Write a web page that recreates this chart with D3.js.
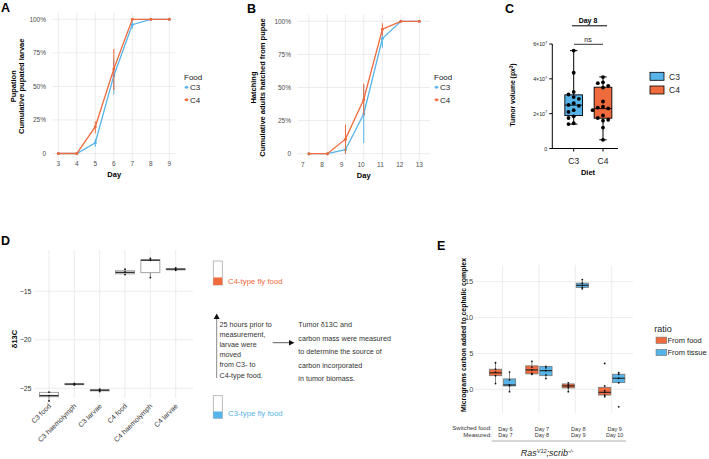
<!DOCTYPE html>
<html><head><meta charset="utf-8">
<script src="https://cdn.jsdelivr.net/npm/d3@7"></script>
<style>body{margin:0;background:#fff} svg{display:block} text{font-family:"Liberation Sans",Arial,Helvetica,sans-serif}</style>
</head><body>
<svg id="fig" width="709" height="459"></svg>
<script>
// ---------------- DATA ----------------
// Panel A: pupation
const daysA = [3,4,5,6,7,8,9];
const pupC3   = [0,0,0.08,0.58,0.96,1,1];
const pupC3lo = [0,0,0.05,0.44,0.93,1,1];
const pupC3hi = [0,0,0.11,0.70,0.99,1,1];
const pupC4   = [0,0,0.20,0.63,1,1,1];
const pupC4lo = [0,0,0.15,0.47,1,1,1];
const pupC4hi = [0,0,0.24,0.78,1,1,1];
const pctTicks = [0,0.25,0.5,0.75,1];
const pctLabels = ["0","25%","50%","75%","100%"];
// Panel B: hatching (observation times, days)
const daysB = [7.32,8.27,9.2,10.14,11.1,12.05,13.0];
const dayTicksB = [7,8,9,10,11,12,13];
const hatC3   = [0,0,0.03,0.30,0.87,1,1];
const hatC3lo = [0,0,0.00,0.08,0.80,1,1];
const hatC3hi = [0,0,0.06,0.52,0.93,1,1];
const hatC4   = [0,0,0.11,0.41,0.94,1,1];
const hatC4lo = [0,0,0.00,0.29,0.89,1,1];
const hatC4hi = [0,0,0.22,0.53,0.985,1,1];
const foodSeries = ["C3","C4"];
// Panel C: tumor volume (x 1e7 px^3)
const dietCats = ["C3","C4"];
const tumorC3 = [5.62,4.35,3.25,3.1,2.95,2.85,2.6,2.5,2.45,2.2,2.1,1.85,1.75,1.45,1.4];
const tumorC4 = [4.1,3.8,3.75,3.6,3.5,2.7,2.4,2.35,2.3,2.2,1.9,1.75,1.65,1.6,1.2,0.5];
// [min, q1, median, q3, max]
const tumorStatsC3 = [1.4,1.89,2.49,3.08,5.62];
const tumorStatsC4 = [0.5,1.74,2.29,3.52,4.11];
const tumorTicks = [0,2,4,6];
// Panel D: d13C
const catsD = ["C3 food","C3 haemolymph","C3 larvae","C4 food","C4 haemolymph","C4 larvae"];
const statsD = [
  [-26.3,-25.87,-25.75,-25.42,-25.38],
  [-24.66,-24.63,-24.57,-24.52,-24.48],
  [-25.35,-25.27,-25.2,-25.14,-25.08],
  [-13.3,-13.2,-13.05,-12.88,-12.7],
  [-13.6,-13.08,-11.8,-11.74,-11.6],
  [-12.85,-12.8,-12.72,-12.66,-12.55]
];
const pointsD = [
  [-25.4,-25.75,-26.3],
  [-24.5,-24.57,-24.65],
  [-25.1,-25.2,-25.33],
  [-12.72,-13.0,-13.28],
  [-11.62,-11.8,-13.58],
  [-12.58,-12.72,-12.83]
];
const ticksD = [-15,-20,-25];
// Panel E: carbon source
const switchedE = ["Day 6","Day 7","Day 8","Day 9"];
const measuredE = ["Day 7","Day 8","Day 9","Day 10"];
const ratioSeries = ["From food","From tissue"];
const foodStatsE = [[0.8,1.9,2.3,2.8,3.7],[2.1,2.15,2.7,3.27,3.9],[-0.33,0.19,0.47,0.75,0.9],[-1.03,-0.8,-0.42,0.28,0.47]];
const tissueStatsE = [[-0.33,0.47,0.6,1.45,2.4],[1.5,1.9,2.6,3.2,3.2],[14.0,14.2,14.5,14.8,15.3],[0.84,0.93,1.54,2.1,2.33]];
const foodPtsE = [[3.7,2.8,2.4,1.9,0.8],[3.9,3.1,2.7,2.2,2.1],[0.9,0.6,0.45,0.2,-0.33],[3.6,0.47,-0.2,-0.42,-0.8,-1.03]];
const tissuePtsE = [[2.4,1.3,0.6,0.5,-0.33],[3.2,3.0,2.6,2.0,1.5],[15.3,14.8,14.5,14.2,14.0],[2.33,2.1,1.54,0.93,-2.44]];
const ticksE = [0,5,10,15];

// ---------------- STYLE ----------------
const ORANGE="#EF6A3C", BLUE="#56B4E9", GRID="#e4e4e4", TXT="#4d4d4d";
const svg = d3.select("#fig");

function label(t,x,y){ svg.append("text").attr("x",x).attr("y",y).attr("font-size",12.5).attr("font-weight","bold").text(t); }
label("A",1,12.3); label("B",247,13.3); label("C",505,13.3); label("D",1,245); label("E",437,250);

// ---------------- A & B ----------------
function linePanel(c){
  const g = svg.append("g");
  const x = d3.scaleLinear().domain(c.xdom).range(c.xr);
  const y = d3.scaleLinear().domain([0,1]).range(c.yr);
  g.selectAll(null).data(pctTicks).join("line").attr("x1",c.px[0]).attr("x2",c.px[1])
    .attr("y1",d=>y(d)).attr("y2",d=>y(d)).attr("stroke",GRID).attr("stroke-width",0.7);
  g.selectAll(null).data(c.gridX).join("line").attr("y1",c.py[0]).attr("y2",c.py[1])
    .attr("x1",d=>x(d)).attr("x2",d=>x(d)).attr("stroke",GRID).attr("stroke-width",0.7);
  g.selectAll(null).data(pctTicks).join("text").attr("x",c.px[0]-6.5).attr("y",d=>y(d)+2.3)
    .attr("text-anchor","end").attr("font-size",6.5).attr("fill",TXT).text((d,i)=>pctLabels[i]);
  g.selectAll(null).data(c.tickX).join("text").attr("x",d=>x(d)).attr("y",c.tickY)
    .attr("text-anchor","middle").attr("font-size",6.5).attr("fill",TXT).text(d=>d);
  g.append("text").attr("x",(c.px[0]+c.px[1])/2).attr("y",c.tickY+11).attr("text-anchor","middle")
    .attr("font-size",7.5).attr("font-weight","bold").text("Day");
  c.ytitle.forEach((t,i)=>{
    g.append("text").attr("transform",`translate(${c.ytx[i]},${(c.py[0]+c.py[1])/2}) rotate(-90)`)
      .attr("text-anchor","middle").attr("font-size",7.5).attr("font-weight","bold").text(t);
  });
  const series=[{col:BLUE,v:c.s3,lo:c.s3lo,hi:c.s3hi},{col:ORANGE,v:c.s4,lo:c.s4lo,hi:c.s4hi}];
  const line=d3.line().x((d,i)=>x(c.xs[i])).y(d=>y(d));
  series.forEach(s=>{
    g.selectAll(null).data(s.v).join("line").attr("x1",(d,i)=>x(c.xs[i])).attr("x2",(d,i)=>x(c.xs[i]))
      .attr("y1",(d,i)=>y(s.lo[i])).attr("y2",(d,i)=>y(s.hi[i])).attr("stroke",s.col).attr("stroke-width",1);
    g.append("path").attr("d",line(s.v)).attr("fill","none").attr("stroke",s.col).attr("stroke-width",1.3);
    g.selectAll(null).data(s.v).join("circle").attr("cx",(d,i)=>x(c.xs[i])).attr("cy",d=>y(d)).attr("r",1.5).attr("fill",s.col);
  });
  // legend
  g.append("text").attr("x",c.lx).attr("y",80).attr("font-size",8).attr("fill","#222").text("Food");
  foodSeries.forEach((f,i)=>{
    const yy=87.3+i*12.4;
    g.append("line").attr("x1",c.lx+0.5).attr("x2",c.lx+4.5).attr("y1",yy).attr("y2",yy).attr("stroke",series[i].col).attr("stroke-width",1);
    g.append("circle").attr("cx",c.lx+2.5).attr("cy",yy).attr("r",1.5).attr("fill",series[i].col);
    g.append("text").attr("x",c.lx+6).attr("y",yy+3).attr("font-size",8).attr("fill","#222").text(f);
  });
}
linePanel({xdom:[3,9],xr:[58.3,169.3],yr:[153.5,19.3],px:[52.5,176],py:[12.6,160],gridX:daysA,tickX:daysA,tickY:165.5,
  xs:daysA,s3:pupC3,s3lo:pupC3lo,s3hi:pupC3hi,s4:pupC4,s4lo:pupC4lo,s4hi:pupC4hi,
  ytitle:["Pupation","Cumulative pupated larvae"],ytx:[15.5,24],lx:184});
linePanel({xdom:[7,13],xr:[302.7,419.3],yr:[153.7,21.3],px:[297.5,430],py:[14.5,160.5],gridX:daysB,tickX:dayTicksB,tickY:166.8,
  xs:daysB,s3:hatC3,s3lo:hatC3lo,s3hi:hatC3hi,s4:hatC4,s4lo:hatC4lo,s4hi:hatC4hi,
  ytitle:["Hatching","Cumulative adults hatched from pupae"],ytx:[256,264.5],lx:434});

// ---------------- C ----------------
(function(){
  const g=svg.append("g");
  const y=d3.scaleLinear().domain([0,6]).range([148.5,44]);
  const x=d3.scalePoint().domain(dietCats).range([573.7,603]);
  const ax=552.3;
  g.append("line").attr("x1",ax).attr("x2",ax).attr("y1",y(6)).attr("y2",y(0)+0.5).attr("stroke","#000").attr("stroke-width",1);
  g.append("line").attr("x1",ax).attr("x2",618).attr("y1",y(0)).attr("y2",y(0)).attr("stroke","#000").attr("stroke-width",1);
  tumorTicks.forEach(t=>{
    g.append("line").attr("x1",ax-3).attr("x2",ax).attr("y1",y(t)).attr("y2",y(t)).attr("stroke","#000");
    const tx=g.append("text").attr("x",ax-5).attr("y",y(t)+2).attr("text-anchor","end").attr("font-size",5.3).attr("fill","#222");
    if(t===0) tx.text("0"); else { tx.text(t+"×10"); tx.append("tspan").attr("dy",-2.2).attr("font-size",4).text("7"); }
  });
  dietCats.forEach(d=>{
    g.append("line").attr("x1",x(d)).attr("x2",x(d)).attr("y1",y(0)).attr("y2",y(0)+3).attr("stroke","#000");
    g.append("text").attr("x",x(d)).attr("y",164).attr("text-anchor","middle").attr("font-size",8.5).attr("fill","#222").text(d);
  });
  g.append("text").attr("x",588).attr("y",175).attr("text-anchor","middle").attr("font-size",7.5).attr("font-weight","bold").text("Diet");
  const yt=g.append("text").attr("transform","translate(515,95) rotate(-90)").attr("text-anchor","middle").attr("font-size",6.8).attr("font-weight","bold");
  yt.append("tspan").text("Tumor volume (px");
  yt.append("tspan").attr("dy",-2).attr("font-size",4.5).text("3");
  yt.append("tspan").attr("dy",2).text(")");
  g.append("text").attr("x",588).attr("y",23.3).attr("text-anchor","middle").attr("font-size",7).attr("font-weight","bold").text("Day 8");
  g.append("line").attr("x1",572).attr("x2",607).attr("y1",25.8).attr("y2",25.8).attr("stroke","#000").attr("stroke-width",1);
  g.append("text").attr("x",588).attr("y",42).attr("text-anchor","middle").attr("font-size",7).attr("fill","#222").text("ns");
  g.append("line").attr("x1",574).attr("x2",603).attr("y1",44.3).attr("y2",44.3).attr("stroke","#000").attr("stroke-width",0.8);
  const bw=17.7;
  [[tumorStatsC3,tumorC3,BLUE],[tumorStatsC4,tumorC4,ORANGE]].forEach(([s,pts,col],i)=>{
    const cx=x(dietCats[i]);
    g.append("line").attr("x1",cx).attr("x2",cx).attr("y1",y(s[0])).attr("y2",y(s[4])).attr("stroke","#000").attr("stroke-width",1);
    [s[0],s[4]].forEach(v=>g.append("line").attr("x1",cx-3.7).attr("x2",cx+3.7).attr("y1",y(v)).attr("y2",y(v)).attr("stroke","#000").attr("stroke-width",1));
    g.append("rect").attr("x",cx-bw/2).attr("width",bw).attr("y",y(s[3])).attr("height",y(s[1])-y(s[3])).attr("fill",col).attr("stroke","#000").attr("stroke-width",0.9);
    g.append("line").attr("x1",cx-bw/2).attr("x2",cx+bw/2).attr("y1",y(s[2])).attr("y2",y(s[2])).attr("stroke","#000").attr("stroke-width",0.9);
    const placed=[];
    pts.forEach(v=>{
      const yy=y(v);
      for(const k of [0,-1,1,-2,2,-3,3]){
        const xx=cx+k*5.2;
        if(placed.every(p=>Math.hypot(p[0]-xx,p[1]-yy)>=4.4)){placed.push([xx,yy]);break;}
      }
    });
    g.selectAll(null).data(placed).join("circle").attr("cx",d=>d[0]).attr("cy",d=>d[1]).attr("r",1.9).attr("fill","#000");
  });
  dietCats.forEach((d,i)=>{
    const yy=76.3+i*13.7;
    g.append("rect").attr("x",650).attr("y",yy-4).attr("width",14).attr("height",8).attr("fill",i?ORANGE:BLUE).attr("stroke","#000").attr("stroke-width",0.8);
    g.append("text").attr("x",669).attr("y",yy+3.2).attr("font-size",8.5).attr("fill","#222").text(d);
  });
})();

// ---------------- D ----------------
(function(){
  const g=svg.append("g");
  const y=d3.scaleLinear().domain([-25,-15]).range([388.3,291.3]);
  const x=d3.scalePoint().domain(catsD).range([49,175.7]);
  const px=[35,193], py=[250,398];
  ticksD.forEach(t=>g.append("line").attr("x1",px[0]).attr("x2",px[1]).attr("y1",y(t)).attr("y2",y(t)).attr("stroke",GRID).attr("stroke-width",0.7));
  catsD.forEach(c=>g.append("line").attr("x1",x(c)).attr("x2",x(c)).attr("y1",py[0]).attr("y2",py[1]).attr("stroke",GRID).attr("stroke-width",0.7));
  ticksD.forEach(t=>g.append("text").attr("x",31.5).attr("y",y(t)+2.4).attr("text-anchor","end").attr("font-size",7).attr("fill","#333").text("\u2212"+Math.abs(t)));
  catsD.forEach(c=>g.append("text").attr("transform",`translate(${x(c)+2.5},${406.5}) rotate(-45)`).attr("text-anchor","end").attr("font-size",7).attr("fill","#333").text(c));
  g.append("text").attr("transform","translate(16.5,339) rotate(-90)").attr("text-anchor","middle").attr("font-size",7.5).attr("font-weight","bold").text("δ13C");
  const bw=19;
  statsD.forEach((s,i)=>{
    const cx=x(catsD[i]);
    g.append("line").attr("x1",cx).attr("x2",cx).attr("y1",y(s[0])).attr("y2",y(s[4])).attr("stroke","#555").attr("stroke-width",0.7);
    g.append("rect").attr("x",cx-bw/2).attr("width",bw).attr("y",y(s[3])).attr("height",Math.max(1,y(s[1])-y(s[3]))).attr("fill","#fff").attr("stroke","#9a9a9a").attr("stroke-width",0.9);
    g.append("line").attr("x1",cx-bw/2).attr("x2",cx+bw/2).attr("y1",y(s[2])).attr("y2",y(s[2])).attr("stroke","#333").attr("stroke-width",1.3);
    g.selectAll(null).data(pointsD[i]).join("circle").attr("cx",cx).attr("cy",d=>y(d)).attr("r",0.9).attr("fill","#111");
  });
  // annotation
  const kx=213.3;
  g.append("rect").attr("x",kx).attr("y",261).attr("width",9).attr("height",24).attr("fill","#fff").attr("stroke","#aaa").attr("stroke-width",0.8);
  g.append("rect").attr("x",kx).attr("y",277.5).attr("width",9).attr("height",7.5).attr("fill",ORANGE);
  g.append("text").attr("x",228).attr("y",283.5).attr("font-size",7.8).attr("fill",ORANGE).text("C4-type fly food");
  g.append("rect").attr("x",kx).attr("y",395.7).attr("width",9).attr("height",22.6).attr("fill","#fff").attr("stroke","#aaa").attr("stroke-width",0.8);
  g.append("rect").attr("x",kx).attr("y",411.5).attr("width",9).attr("height",6.8).attr("fill",BLUE);
  g.append("text").attr("x",228).attr("y",415.7).attr("font-size",7.8).attr("fill",BLUE).text("C3-type fly food");
  g.append("line").attr("x1",216.7).attr("x2",216.7).attr("y1",378).attr("y2",318).attr("stroke","#555").attr("stroke-width",0.7);
  g.append("path").attr("d","M213.7,319 L216.7,313.5 L219.7,319 Z").attr("fill","#111");
  ["25 hours prior to","measurement,","larvae were","moved","from C3- to","C4-type food."].forEach((t,i)=>
    g.append("text").attr("x",219.5).attr("y",327+i*10.1).attr("font-size",7.2).attr("fill","#333").text(t));
  g.append("line").attr("x1",272.7).attr("x2",290).attr("y1",342.7).attr("y2",342.7).attr("stroke","#333").attr("stroke-width",0.8);
  g.append("path").attr("d","M289,340 L294.5,342.7 L289,345.4 Z").attr("fill","#111");
  ["Tumor δ13C and","carbon mass were measured","to determine the source of","carbon incorporated","in tumor biomass."].forEach((t,i)=>
    g.append("text").attr("x",298.3).attr("y",327+i*13.5).attr("font-size",7.2).attr("fill","#333").text(t));
})();

// ---------------- E ----------------
(function(){
  const g=svg.append("g");
  const y=d3.scaleLinear().domain([0,15]).range([389.3,281.7]);
  const x=d3.scalePoint().domain(switchedE).range([502.5,611.7]);
  const px=[475,633], py=[265,413];
  ticksE.forEach(t=>g.append("line").attr("x1",px[0]).attr("x2",px[1]).attr("y1",y(t)).attr("y2",y(t)).attr("stroke",GRID).attr("stroke-width",0.7));
  switchedE.forEach(c=>g.append("line").attr("x1",x(c)).attr("x2",x(c)).attr("y1",py[0]).attr("y2",py[1]).attr("stroke",GRID).attr("stroke-width",0.7));
  ticksE.forEach(t=>g.append("text").attr("x",473.3).attr("y",y(t)+2.6).attr("text-anchor","end").attr("font-size",7.5).attr("fill",TXT).text(t));
  g.append("text").attr("transform","translate(465.5,335) rotate(-90)").attr("text-anchor","middle").attr("font-size",6.9).attr("font-weight","bold").text("Micrograms carbon added to cephalic complex");
  const bw=12.3, off=7;
  [[foodStatsE,foodPtsE,ORANGE,-off],[tissueStatsE,tissuePtsE,BLUE,off]].forEach(([st,pts,col,o])=>{
    st.forEach((s,i)=>{
      const cx=x(switchedE[i])+o;
      g.append("line").attr("x1",cx).attr("x2",cx).attr("y1",y(s[0])).attr("y2",y(s[4])).attr("stroke","#555").attr("stroke-width",0.7);
      g.append("rect").attr("x",cx-bw/2).attr("width",bw).attr("y",y(s[3])).attr("height",y(s[1])-y(s[3])).attr("fill",col).attr("stroke","#777").attr("stroke-width",0.8);
      g.append("line").attr("x1",cx-bw/2).attr("x2",cx+bw/2).attr("y1",y(s[2])).attr("y2",y(s[2])).attr("stroke","#222").attr("stroke-width",1.1);
      g.selectAll(null).data(pts[i]).join("circle").attr("cx",cx).attr("cy",d=>y(d)).attr("r",0.9).attr("fill","#111");
    });
  });
  g.append("text").attr("x",491.7).attr("y",429.5).attr("text-anchor","end").attr("font-size",6).attr("fill","#333").text("Switched food:");
  g.append("text").attr("x",491.7).attr("y",437).attr("text-anchor","end").attr("font-size",6).attr("fill","#333").text("Measured:");
  switchedE.forEach((d,i)=>{
    g.append("text").attr("x",x(d)+3).attr("y",430.5).attr("text-anchor","middle").attr("font-size",5.5).attr("fill","#333").text(d);
    g.append("text").attr("x",x(d)+3).attr("y",437.3).attr("text-anchor","middle").attr("font-size",5.5).attr("fill","#333").text(measuredE[i]);
  });
  g.append("line").attr("x1",491.7).attr("x2",626).attr("y1",441).attr("y2",441).attr("stroke","#999").attr("stroke-width",0.8);
  const rt=g.append("text").attr("x",547).attr("y",456).attr("text-anchor","middle").attr("font-size",9).attr("font-style","italic").attr("fill","#222");
  rt.append("tspan").text("Ras");
  rt.append("tspan").attr("dy",-3).attr("font-size",5.5).text("V12");
  rt.append("tspan").attr("dy",3).text(";scrib");
  rt.append("tspan").attr("dy",-3).attr("font-size",5.5).text("-/-");
  g.append("text").attr("x",654.3).attr("y",331.5).attr("font-size",9).attr("fill","#222").text("ratio");
  ratioSeries.forEach((r,i)=>{
    const yy=340.3+i*12.2;
    g.append("rect").attr("x",656).attr("y",yy-3.2).attr("width",10.7).attr("height",6.4).attr("fill",i?BLUE:ORANGE).attr("stroke","#777").attr("stroke-width",0.6);
    g.append("text").attr("x",667.5).attr("y",yy+2.6).attr("font-size",7.5).attr("fill","#222").text(r);
  });
})();
</script>
</body></html>
